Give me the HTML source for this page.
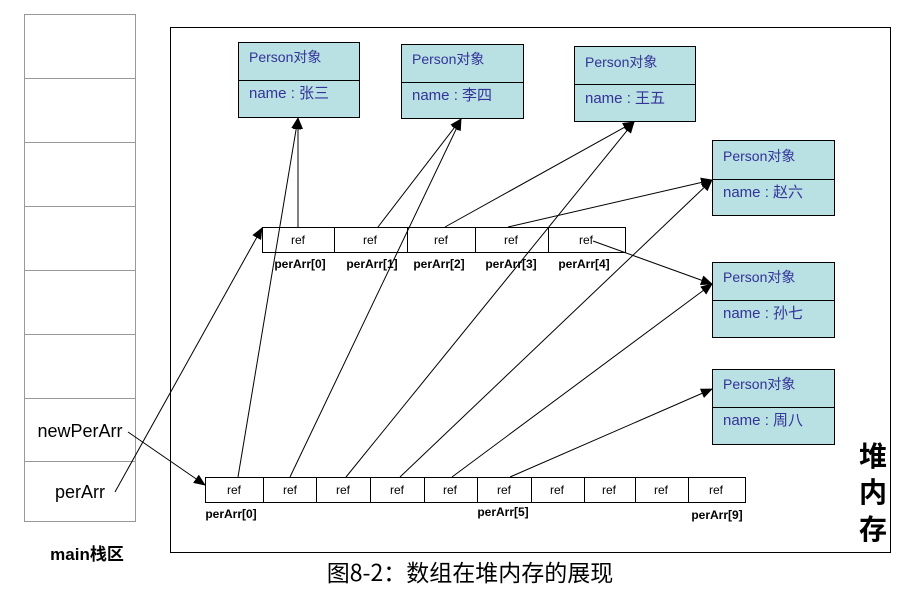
<!DOCTYPE html>
<html><head><meta charset="utf-8"><style>
html,body{margin:0;padding:0;background:#fff;}
svg{display:block;}
</style></head><body>
<svg width="913" height="593" viewBox="0 0 913 593" xmlns="http://www.w3.org/2000/svg" font-family="Liberation Sans, Noto Sans CJK SC, sans-serif">
<defs>
<marker id="a" markerWidth="12" markerHeight="10" refX="11" refY="5" orient="auto" markerUnits="userSpaceOnUse">
<path d="M0,0 L12,5 L0,10 z" fill="#000"/>
</marker>
</defs>
<rect x="24.5" y="14.5" width="111" height="507" fill="#fff" stroke="#999"/>
<g stroke="#999">
<line x1="24" y1="78.5" x2="135" y2="78.5"/>
<line x1="24" y1="142.5" x2="135" y2="142.5"/>
<line x1="24" y1="206.5" x2="135" y2="206.5"/>
<line x1="24" y1="270.5" x2="135" y2="270.5"/>
<line x1="24" y1="334.5" x2="135" y2="334.5"/>
<line x1="24" y1="398.5" x2="135" y2="398.5"/>
<line x1="24" y1="461.5" x2="135" y2="461.5"/>
</g>
<text x="80" y="437" font-size="18" text-anchor="middle">newPerArr</text>
<text x="80" y="498" font-size="18" text-anchor="middle">perArr</text>
<text x="87" y="560" font-size="17" font-weight="bold" text-anchor="middle">main栈区</text>
<rect x="170.5" y="27.5" width="720" height="525" fill="none" stroke="#000"/>
<g font-size="28" font-weight="bold" text-anchor="middle" font-family="Noto Sans CJK SC, sans-serif">
<text x="873" y="466">堆</text>
<text x="873" y="502">内</text>
<text x="873" y="539">存</text>
</g>
<g stroke="#000" fill="#b9e0e3">
<rect x="238.5" y="42.5" width="121" height="75"/><line x1="238" y1="80.5" x2="359" y2="80.5"/>
<rect x="401.5" y="44.5" width="122" height="74"/><line x1="401" y1="82.5" x2="523" y2="82.5"/>
<rect x="574.5" y="46.5" width="121" height="75"/><line x1="574" y1="84.5" x2="695" y2="84.5"/>
<rect x="712.5" y="140.5" width="122" height="75"/><line x1="712" y1="179.5" x2="834" y2="179.5"/>
<rect x="712.5" y="262.5" width="122" height="75"/><line x1="712" y1="300.5" x2="834" y2="300.5"/>
<rect x="712.5" y="369.5" width="122" height="75"/><line x1="712" y1="407.5" x2="834" y2="407.5"/>
</g>
<g font-size="14" fill="#333399">
<text x="249" y="62">Person对象</text><text x="249" y="98" font-size="15">name : 张三</text>
<text x="412" y="64">Person对象</text><text x="412" y="100" font-size="15">name : 李四</text>
<text x="585" y="67">Person对象</text><text x="585" y="103" font-size="15">name : 王五</text>
<text x="723" y="161">Person对象</text><text x="723" y="197" font-size="15">name : 赵六</text>
<text x="723" y="282">Person对象</text><text x="723" y="318" font-size="15">name : 孙七</text>
<text x="723" y="389">Person对象</text><text x="723" y="425" font-size="15">name : 周八</text>
</g>
<rect x="262.5" y="227.5" width="363" height="25" fill="#fff" stroke="#000"/>
<g stroke="#000">
<line x1="334.5" y1="227" x2="334.5" y2="252"/>
<line x1="407.5" y1="227" x2="407.5" y2="252"/>
<line x1="475.5" y1="227" x2="475.5" y2="252"/>
<line x1="548.5" y1="227" x2="548.5" y2="252"/>
</g>
<g font-size="12" text-anchor="middle">
<text x="298" y="244">ref</text><text x="370" y="244">ref</text><text x="441" y="244">ref</text><text x="511" y="244">ref</text><text x="586" y="244">ref</text>
</g>
<g font-size="12" font-weight="bold" text-anchor="middle">
<text x="300" y="268">perArr[0]</text><text x="372" y="268">perArr[1]</text><text x="439" y="268">perArr[2]</text><text x="511" y="268">perArr[3]</text><text x="584" y="268">perArr[4]</text>
</g>
<rect x="205.5" y="477.5" width="540" height="25" fill="#fff" stroke="#000"/>
<g stroke="#000">
<line x1="263.5" y1="477" x2="263.5" y2="502"/>
<line x1="316.5" y1="477" x2="316.5" y2="502"/>
<line x1="370.5" y1="477" x2="370.5" y2="502"/>
<line x1="424.5" y1="477" x2="424.5" y2="502"/>
<line x1="477.5" y1="477" x2="477.5" y2="502"/>
<line x1="531.5" y1="477" x2="531.5" y2="502"/>
<line x1="584.5" y1="477" x2="584.5" y2="502"/>
<line x1="635.5" y1="477" x2="635.5" y2="502"/>
<line x1="688.5" y1="477" x2="688.5" y2="502"/>
</g>
<g font-size="12" text-anchor="middle">
<text x="234" y="494">ref</text><text x="290" y="494">ref</text><text x="343" y="494">ref</text><text x="397" y="494">ref</text><text x="450" y="494">ref</text><text x="504" y="494">ref</text><text x="557" y="494">ref</text><text x="609" y="494">ref</text><text x="661" y="494">ref</text><text x="716" y="494">ref</text>
</g>
<g font-size="12" font-weight="bold" text-anchor="middle">
<text x="231" y="518">perArr[0]</text><text x="503" y="516">perArr[5]</text><text x="717" y="519">perArr[9]</text>
</g>
<g stroke="#000" stroke-width="1" fill="none" marker-end="url(#a)">
<line x1="298" y1="227" x2="298" y2="118"/>
<line x1="238" y1="477" x2="298" y2="118"/>
<line x1="378" y1="227" x2="461" y2="119"/>
<line x1="290" y1="477" x2="461" y2="119"/>
<line x1="445" y1="227" x2="634" y2="122"/>
<line x1="346" y1="477" x2="634" y2="122"/>
<line x1="508" y1="227" x2="712" y2="180"/>
<line x1="400" y1="477" x2="712" y2="180"/>
<line x1="593" y1="241" x2="712" y2="284"/>
<line x1="452" y1="477" x2="712" y2="284"/>
<line x1="510" y1="477" x2="712" y2="389"/>
<line x1="115" y1="492" x2="262" y2="228"/>
<line x1="128" y1="432" x2="205" y2="485"/>
</g>
<text x="470" y="581" font-size="23" text-anchor="middle" font-family="Noto Sans CJK SC, sans-serif">图8-2：数组在堆内存的展现</text>
</svg>
</body></html>
